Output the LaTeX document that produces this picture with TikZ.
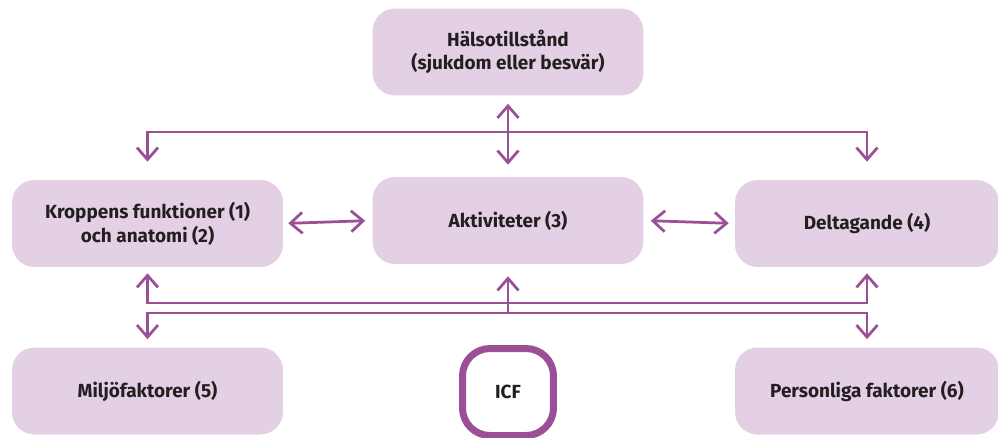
\documentclass[tikz,border=0pt]{standalone}
\usepackage{fontspec}
\setmainfont{Fira Sans}
\usepackage{tikz}
\usetikzlibrary{arrows.meta,positioning}
\definecolor{boxfill}{HTML}{E4D0E4}
\definecolor{icfline}{HTML}{9B4F96}
\definecolor{txt}{HTML}{231F20}
\tikzset{
    stage/.style={rectangle, rounded corners=0.45cm, fill=boxfill, text=txt, align=center,
        minimum width=5.42cm, minimum height=1.74cm, inner sep=2pt,
        font=\fontsize{10.8}{13.5}\selectfont\bfseries},
    core/.style={rectangle, rounded corners=0.55cm, draw=icfline, line width=0.14cm, text=txt,
        minimum width=1.82cm, minimum height=1.74cm, font=\fontsize{10.8}{13.5}\selectfont\bfseries},
    link/.style={draw=icfline, line width=0.055cm, -{Straight Barb[length=0.24cm,width=0.42cm]}},
    bilink/.style={link, {Straight Barb[length=0.24cm,width=0.42cm]}-{Straight Barb[length=0.24cm,width=0.42cm]}}
}

\begin{document}
\begin{tikzpicture}[x=0.02cm, y=-0.02cm]
    \useasboundingbox (0,0) rectangle (998,437);

    % Nodes
    \node[stage] (halsa) at (508,52) {Hälsotillstånd\\(sjukdom eller besvär)};
    \node[stage] (kropp) at (147.5,223.5) {Kroppens funktioner (1)\\och anatomi (2)};
    \node[stage] (akt) at (508,220.5) {Aktiviteter (3)};
    \node[stage, minimum width=5.28cm] (delt) at (867,223.5) {Deltagande (4)};
    \node[stage] (miljo) at (147.5,391) {Miljöfaktorer (5)};
    \node[core] (icf) at (508,392) {ICF};
    \node[stage, minimum width=5.28cm] (pers) at (867,391) {Personliga faktorer (6)};

    \coordinate (hub) at (508,132);
    \coordinate (upper) at (508,303);
    \coordinate (lower) at (508,313);

    % edges
    \draw[bilink, shorten <=0.16cm, shorten >=0.24cm] (halsa.south) -- (akt.north);
    \draw[link, shorten >=0.36cm] (hub) -| (kropp.north);
    \draw[link, shorten >=0.36cm] (hub) -| (delt.north);
    \draw[bilink, shorten <=0.1cm, shorten >=0.14cm] (kropp.east) -- (akt.west);
    \draw[bilink, shorten <=0.14cm, shorten >=0.12cm] (akt.east) -- (delt.west);
    \draw[link, shorten >=0.12cm] (upper) -| (kropp.south);
    \draw[link, shorten >=0.12cm] (upper) -| (delt.south);
    \draw[link, shorten >=0.24cm] (lower) -- (akt.south);
    \draw[link, shorten >=0.16cm] (lower) -| (miljo.north);
    \draw[link, shorten >=0.16cm] (lower) -| (pers.north);
\end{tikzpicture}
\end{document}
